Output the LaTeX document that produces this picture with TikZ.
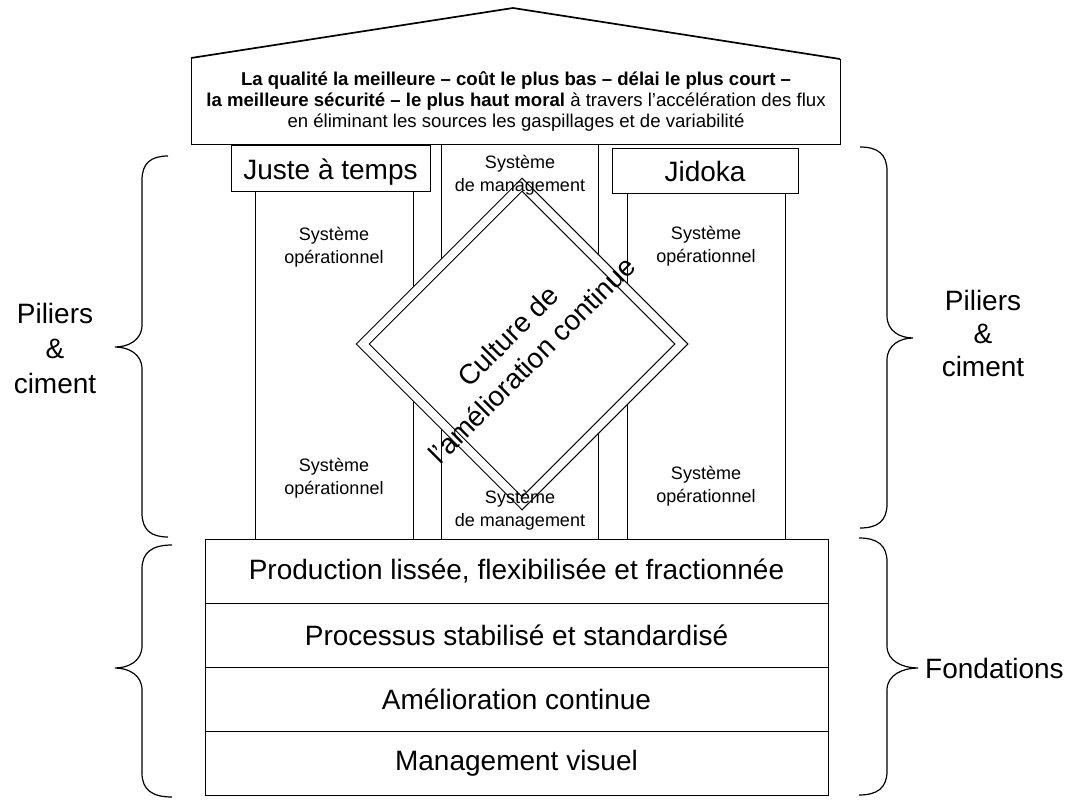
\documentclass[tikz,border=0pt]{standalone}
\usepackage{fontspec}
\setmainfont{Liberation Sans}
\usetikzlibrary{shapes.geometric}

% curly brace: #1 end x, #2 stem x, #3 tip x, #4 top y, #5 tip y, #6 bottom y
\newcommand\curlybrace[6]{%
  \draw[bracestyle] (#1,#4) .. controls ({#2+0.35*(#1-#2)},#4) and (#2,{#4+7}) .. (#2,{#4+24})
    -- (#2,{#5-22}) .. controls (#2,{#5-7}) and ({#3+0.5*(#2-#3)},#5) .. (#3,#5)
    .. controls ({#3+0.5*(#2-#3)},#5) and (#2,{#5+7}) .. (#2,{#5+22})
    -- (#2,{#6-24}) .. controls (#2,{#6-7}) and ({#2+0.35*(#1-#2)},#6) .. (#1,#6);}

\tikzset{
  edge/.style={draw=black, line width=1pt},
  roofline/.style={draw=black, line width=1.7pt, line join=miter},
  bracestyle/.style={draw=black, line width=1.2pt},
  bigtxt/.style={font=\fontsize{28}{34}\selectfont, align=center, inner sep=0pt},
  smalltxt/.style={font=\fontsize{18}{23}\selectfont, align=center, inner sep=0pt},
  rooftxt/.style={font=\fontsize{18.6}{21}\selectfont, align=center, inner sep=0pt},
  pillarhead/.style={edge, fill=white, inner sep=0pt, text height=22pt, text depth=0pt,
    font=\fontsize{28}{34}\selectfont},
  layer/.style={edge, inner sep=0pt, minimum width=623pt, minimum height=64pt,
    font=\fontsize{28}{34}\selectfont},
  diam/.style={edge, diamond, inner sep=0pt},
}

\begin{document}
\begin{tikzpicture}[x=1pt,y=-1pt]
  \useasboundingbox (0,0) rectangle (1067,800);

  % roof
  \draw[edge] (191,58) -- (191,144) -- (840,144) -- (840,59);
  \draw[roofline] (191,58) -- (513,8) -- (840,59);
  \node[rooftxt] (goal) at (516,101)
    {\textbf{La qualité la meilleure – coût le plus bas – délai le plus court –}\\
     \textbf{la meilleure sécurité – le plus haut moral} à travers l’accélération des flux\\
     en éliminant les sources les gaspillages et de variabilité};

  % pillar heads
  \node[pillarhead, minimum width=199pt, minimum height=46pt] (jat) at (330.5,168) {Juste à temps};
  \node[pillarhead, minimum width=186pt, minimum height=45pt] (jid) at (705,170.5) {Jidoka};

  % foundation layers
  \node[layer] (f1) at (516.5,571) {Production lissée, flexibilisée et fractionnée};
  \node[layer] (f2) at (516.5,635) {Processus stabilisé et standardisé};
  \node[layer] (f3) at (516.5,699) {Amélioration continue};
  \node[layer] (f4) at (516.5,763) {Management visuel};

  % pillar sides
  \draw[edge] (255,191) -- (255,539);
  \draw[edge] (413,191) -- (413,539);
  \draw[edge] (627,193) -- (627,539);
  \draw[edge] (785,193) -- (785,539);
  % management band sides
  \draw[edge] (441.7,144) -- (441.7,539);
  \draw[edge] (598,144) -- (598,539);

  % double-lined diamond
  \node[diam, fill=white, minimum width=332pt, minimum height=332pt] (dOuter) at (522,344) {};
  \node[diam, minimum width=306pt, minimum height=306pt] (dInner) at (dOuter.center) {};
  \node[bigtxt, rotate=45] (culture) at (520,348) {Culture de\\l'amélioration continue};

  % pillar texts
  \node[smalltxt] (mgtTop) at (520,175) {Système\\de management};
  \node[smalltxt] (opTL) at (334,247) {Système\\opérationnel};
  \node[smalltxt] (opTR) at (706,246) {Système\\opérationnel};
  \node[smalltxt] (opBL) at (334,478) {Système\\opérationnel};
  \node[smalltxt] (opBR) at (706,486) {Système\\opérationnel};
  \node[smalltxt] (mgtBot) at (520,510) {Système\\de management};

  % braces
  \curlybrace{168}{142}{115}{156}{347}{537}
  \curlybrace{860}{887}{913}{147}{338}{528}
  \curlybrace{172}{142}{115}{545}{668}{797}
  \curlybrace{859}{887}{918}{538}{668}{795}

  % side labels
  \node[bigtxt, font=\fontsize{28}{35}\selectfont] (pilL) at (55,348) {Piliers\\\&\\ciment};
  \node[bigtxt, font=\fontsize{28}{33}\selectfont] (pilR) at (983,333) {Piliers\\\&\\ciment};
  \node[bigtxt, anchor=west] (fond) at (925,668) {Fondations};
\end{tikzpicture}
\end{document}
